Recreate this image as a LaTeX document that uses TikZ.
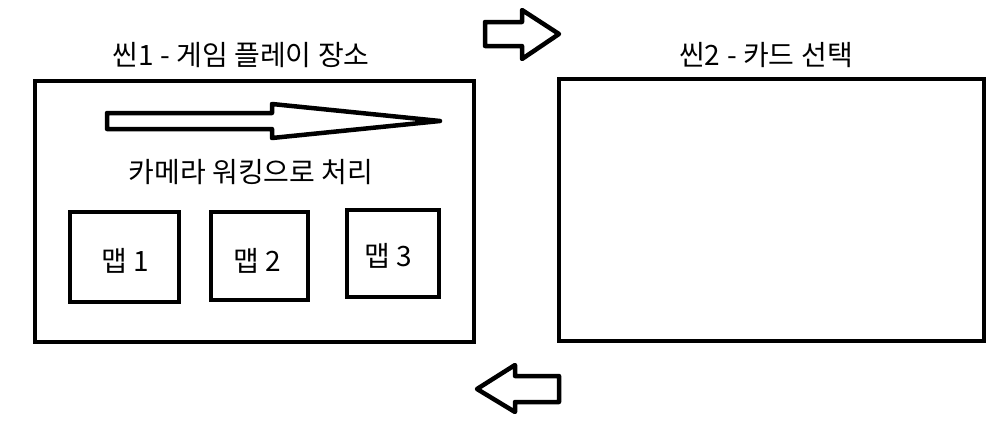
\documentclass[tikz,border=0pt]{standalone}
\usepackage{fontspec}
\setmainfont{Noto Sans CJK KR}
\begin{document}
\begin{tikzpicture}[x=1pt,y=-1pt,
  frame/.style={draw=black,line width=4.5pt,fill=white,line join=miter},
  bigarrow/.style={draw=black,line width=4.5pt,fill=white,line join=round},
  lbl/.style={font=\fontsize{28}{32}\selectfont,inner sep=0pt,anchor=center,
    execute at begin node={\spaceskip=6.5pt\relax}}]
\useasboundingbox[fill=white] (0,0) rectangle (1001,423);
% scene boxes
\draw[frame] (35,81) rectangle (474,342);
\draw[frame] (559,79) rectangle (984,341);
% map boxes
\draw[frame] (70,212) rectangle (179,302);
\draw[frame] (211,212) rectangle (308,300);
\draw[frame] (347,210) rectangle (439,297);
% labels
\node[lbl] (t1) at (241,55) {씬1 - 게임 플레이 장소};
\node[lbl] (t2) at (766,55) {씬2 - 카드 선택};
\node[lbl] (cam) at (251,172) {카메라 워킹으로 처리};
\node[lbl] (m1) at (125,261) {맵 1};
\node[lbl] (m2) at (257,261) {맵 2};
\node[lbl] (m3) at (388,256) {맵 3};
% inner camera arrow
\draw[bigarrow] (107,113) -- (272,113) -- (272,104) -- (440,121) -- (272,138) -- (272,129) -- (107,129) -- cycle;
% top arrow (to scene 2)
\draw[bigarrow] (485,22) -- (522,22) -- (522,10) -- (559,34) -- (522,59) -- (522,46) -- (485,46) -- cycle;
% bottom arrow (back to scene 1)
\draw[bigarrow] (559,376) -- (515,376) -- (515,365) -- (477,389) -- (515,412) -- (515,402) -- (559,402) -- cycle;
\end{tikzpicture}
\end{document}
